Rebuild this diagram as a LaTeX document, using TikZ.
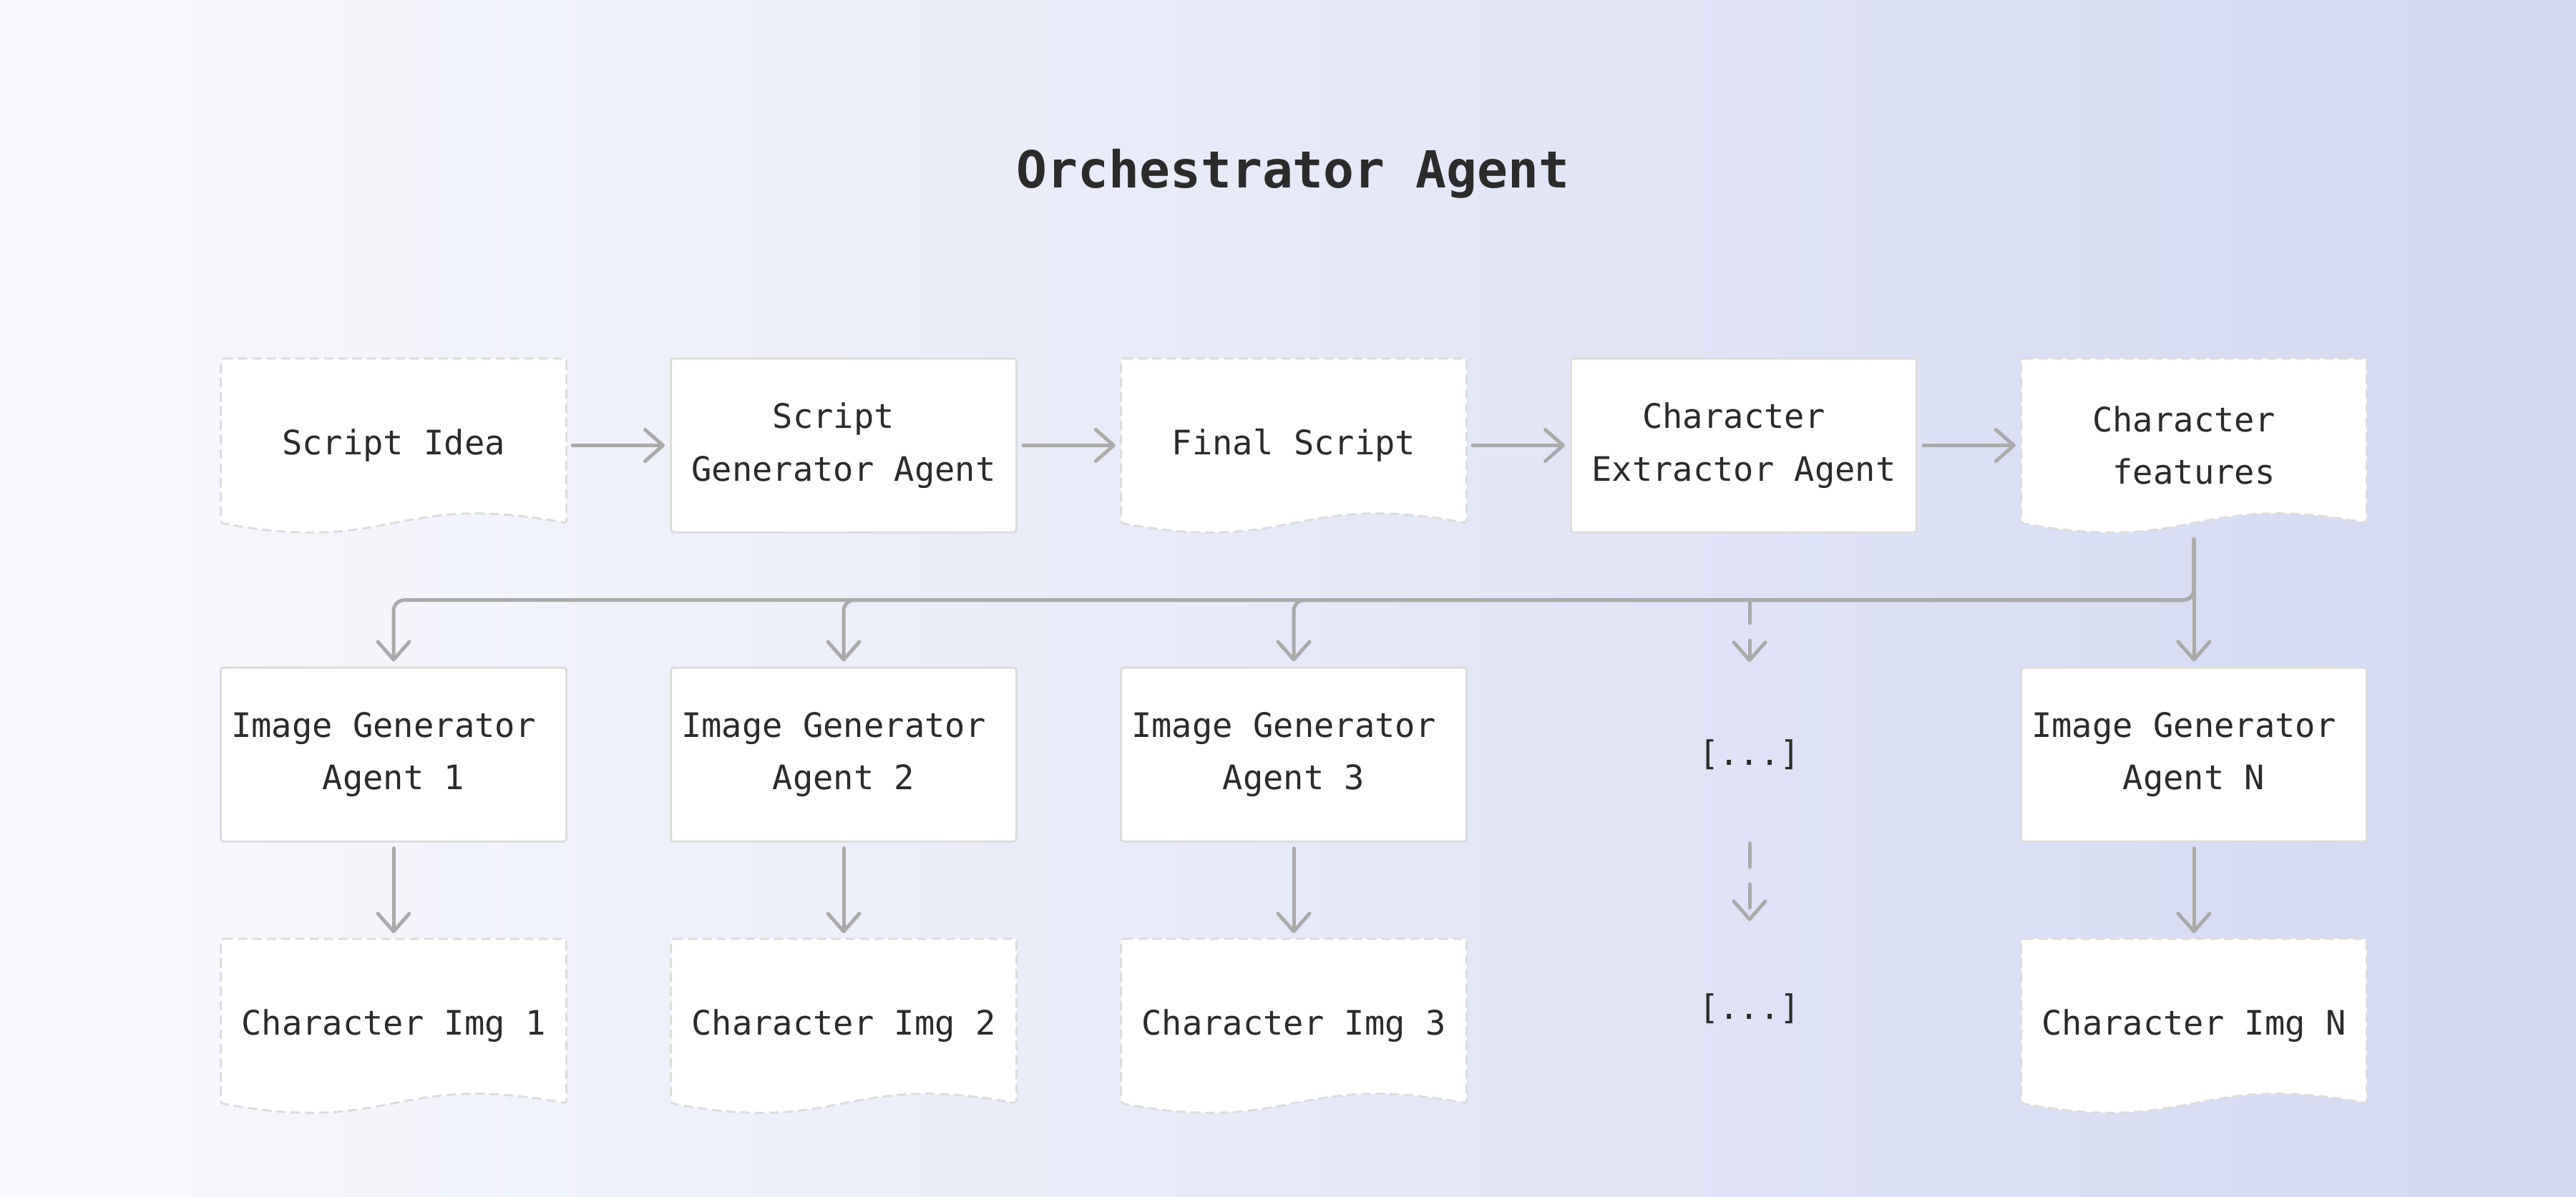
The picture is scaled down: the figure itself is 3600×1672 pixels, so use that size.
\documentclass[tikz,border=0pt]{standalone}
\usepackage{fontspec}
\setmonofont{DejaVu Sans Mono}
\usetikzlibrary{arrows.meta}

\definecolor{bgleft}{HTML}{F9FAFD}
\definecolor{bgright}{HTML}{D3D8F1}
\definecolor{edge}{HTML}{DCDCDC}
\definecolor{wire}{HTML}{AAAAAA}
\definecolor{ink}{HTML}{2B2B2B}

\begin{document}
\begin{tikzpicture}[x=0.1mm,y=-0.1mm,
  >={Straight Barb[length=2.5mm,width=4.4mm,round]},
  every node/.style={font=\ttfamily\fontsize{13.4}{20.9}\selectfont,text=ink,align=center},
  agent/.style={draw=edge,line width=0.3mm,fill=white,rounded corners=0.4mm,minimum width=48.3mm,minimum height=24.3mm,inner sep=0pt},
  doc/.style={minimum width=48.3mm,minimum height=24.3mm,inner sep=0pt},
  docshape/.style={draw=edge,line width=0.3mm,fill=white,dash pattern=on 1.3mm off 0.7mm,rounded corners=0.4mm},
  link/.style={->,draw=wire,line width=0.5mm,line cap=round,shorten <=0.8mm,shorten >=0.7mm},
  maybe/.style={link,dash pattern=on 3.3mm off 2.4mm}]

\fill[left color=bgleft,right color=bgright] (0,0) rectangle (3600,1672);

\node[font=\ttfamily\bfseries\fontsize{20.3}{24}\selectfont] (title) at (1807,243) {Orchestrator Agent};

% top row
\foreach \i/\name/\txt [evaluate=\i as \cx using 550+629*\i] in {0/idea/Script Idea,2/final/Final Script,4/feat/{Character\hphantom{x}\\features}}{
    \path[docshape] (\cx-241.5,501) -- (\cx+241.5,501) -- (\cx+241.5,731)
        .. controls (\cx,686) and (\cx,776) .. (\cx-241.5,731) -- cycle;
    \node[doc] (\name) at (\cx,622.5) {\txt};
}
\foreach \i/\name/\txt [evaluate=\i as \cx using 550+629*\i] in {1/writer/{Script\hphantom{x}\\Generator Agent},3/extract/{Character\hphantom{x}\\Extractor Agent}}
    \node[agent] (\name) at (\cx,622.5) {\txt};

\foreach \a/\b in {idea/writer,writer/final,final/extract,extract/feat}
    \draw[link] (\a.east) -- (\b.west);

% image generators and their images
\foreach \c/\k [evaluate=\c as \cx using 550+629*(\c-1)] in {1/1,2/2,3/3,5/N}{
    \node[agent] (gen\k) at (\cx,1054.5) {Image Generator\hphantom{x}\\Agent \k};
    \path[docshape] (\cx-241.5,1312) -- (\cx+241.5,1312) -- (\cx+241.5,1542)
        .. controls (\cx,1497) and (\cx,1587) .. (\cx-241.5,1542) -- cycle;
    \node[doc] (img\k) at (\cx,1433.5) {Character Img \k};
    \draw[link] (gen\k) -- (img\k);
}

\foreach \k in {1,2,3}
    \draw[link,rounded corners=1.5mm,shorten <=0.9mm] (feat.south) -- ++(0,94) -| (gen\k.north);
\draw[link,shorten <=0.9mm] (feat.south) -- (genN.north);

\coordinate (tap) at (2445,838);
\node[doc] (more1) at (2445,1054.5) {[...]};
\node[doc,minimum height=23mm] (more2) at (2445,1410) {[...]};
\draw[maybe,shorten <=0pt] (tap) -- (more1.north);
\draw[maybe,shorten <=0.2mm] (more1.south) -- (more2.north);

\end{tikzpicture}
\end{document}
